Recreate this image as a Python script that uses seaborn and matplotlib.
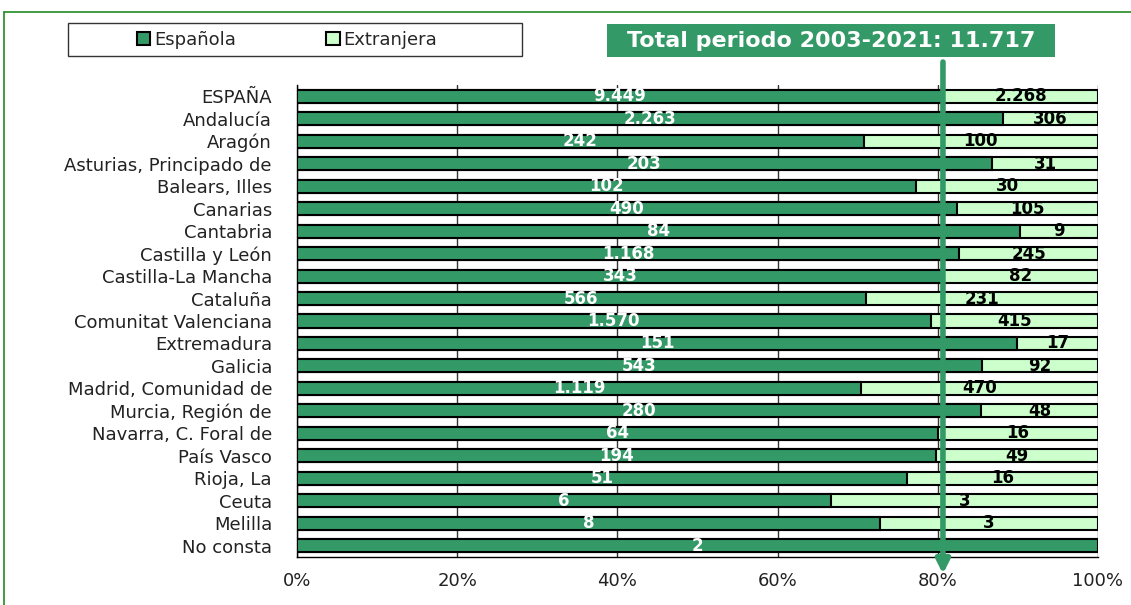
import matplotlib
matplotlib.use("Agg")
import matplotlib.pyplot as plt
import matplotlib.patches as mpatches
from matplotlib.lines import Line2D
import seaborn as sns
import pandas as pd
import numpy as np

categories = ["ESPAÑA", "Andalucía", "Aragón", "Asturias, Principado de", "Balears, Illes",
              "Canarias", "Cantabria", "Castilla y León", "Castilla-La Mancha", "Cataluña",
              "Comunitat Valenciana", "Extremadura", "Galicia", "Madrid, Comunidad de",
              "Murcia, Región de", "Navarra, C. Foral de", "País Vasco", "Rioja, La",
              "Ceuta", "Melilla", "No consta"]
espanola = [9449, 2263, 242, 203, 102, 490, 84, 1168, 343, 566, 1570, 151, 543, 1119,
            280, 64, 194, 51, 6, 8, 2]
extranjera = [2268, 306, 100, 31, 30, 105, 9, 245, 82, 231, 415, 17, 92, 470,
              48, 16, 49, 16, 3, 3, 0]
xticks = [0, 0.2, 0.4, 0.6, 0.8, 1.0]
xtick_labels = ["0%", "20%", "40%", "60%", "80%", "100%"]
title_text = "Total periodo 2003-2021: 11.717"

DARK = "#339966"
LIGHT = "#CCFFCC"

df = pd.DataFrame({"cat": categories, "esp": espanola, "ext": extranjera})
df["total"] = df["esp"] + df["ext"]
df["share_esp"] = df["esp"] / df["total"]
df["full"] = 1.0

def fmt(n):
    return f"{n:,}".replace(",", ".")

sns.set_style("white")
plt.rcParams["font.family"] = ["DejaVu Sans"]

fig = plt.figure(figsize=(11.31, 6.05), dpi=100)
W, H = 1131, 605
ax = fig.add_axes([297 / W, 1 - 557 / H, (1098 - 297) / W, (557 - 85) / H])

sns.barplot(data=df, y="cat", x="full", orient="h", color=LIGHT, edgecolor="black",
            linewidth=1.5, width=0.58, ax=ax, saturation=1, zorder=3)
sns.barplot(data=df, y="cat", x="share_esp", orient="h", color=DARK, edgecolor="black",
            linewidth=1.5, width=0.58, ax=ax, saturation=1, zorder=4)

ax.set_xlim(0, 1.0)
ax.set_ylim(len(categories) - 0.5, -0.5)
ax.set_xticks(xticks)
ax.set_xticklabels(xtick_labels, fontsize=13, color="#222222")
ax.set_xlabel("")
ax.set_ylabel("")
ax.set_yticks(range(len(categories)))
ax.set_yticklabels(categories, fontsize=13, color="#222222")
ax.tick_params(axis="y", which="major", length=0, pad=18)
ax.set_yticks(np.arange(-0.5, len(categories), 1), minor=True)
ax.tick_params(axis="y", which="minor", length=7, width=1, color="black", direction="out")
ax.tick_params(axis="x", which="major", length=6, width=1, color="black", direction="out", pad=5)
ax.grid(axis="x", color="#333333", linewidth=1, zorder=0)
ax.grid(axis="y", visible=False)
for s in ["top", "right"]:
    ax.spines[s].set_visible(False)
for s in ["left", "bottom"]:
    ax.spines[s].set_visible(True)
    ax.spines[s].set_color("black")
    ax.spines[s].set_linewidth(1)

for i, row in df.iterrows():
    ax.text(row["share_esp"] / 2, i, fmt(row["esp"]), ha="center", va="center",
            color="white", fontsize=12, fontweight="bold", zorder=6)
    if row["ext"] > 0:
        ax.text(row["share_esp"] + (1 - row["share_esp"]) / 2, i, fmt(row["ext"]),
                ha="center", va="center", color="black", fontsize=12, fontweight="bold", zorder=6)

# arrow marking Spain share
share = df["share_esp"].iloc[0]
ax.annotate("", xy=(share, 1 - 574 / H), xytext=(share, 1 - 62 / H),
            xycoords=("data", "figure fraction"), textcoords=("data", "figure fraction"),
            arrowprops=dict(arrowstyle="-|>,head_length=0.8,head_width=0.4", color=DARK, lw=4,
                            shrinkA=0, shrinkB=0),
            annotation_clip=False, zorder=10)

# title box
fig.add_artist(mpatches.Rectangle((607 / W, 1 - 57 / H), (1055 - 607) / W, 33 / H,
                                  transform=fig.transFigure, facecolor=DARK, edgecolor="none"))
fig.text(831 / W, 1 - 41 / H, title_text, ha="center", va="center", color="white",
         fontsize=16, fontweight="bold")

# legend
fig.add_artist(mpatches.Rectangle((68 / W, 1 - 56 / H), (522 - 68) / W, 33 / H,
                                  transform=fig.transFigure, facecolor="white",
                                  edgecolor="#333333", linewidth=1))
handles = [mpatches.Patch(facecolor=DARK, edgecolor="black", linewidth=1.5, label="Española"),
           mpatches.Patch(facecolor=LIGHT, edgecolor="black", linewidth=1.5, label="Extranjera")]
leg = fig.legend(handles=handles, loc="center", bbox_to_anchor=(287 / W, 1 - 40 / H),
                 ncol=2, frameon=False, fontsize=13,
                 handlelength=0.75, handleheight=0.75, handletextpad=0.2, columnspacing=5.0,
                 borderpad=0.3)

# outer green border
fig.add_artist(Line2D([4 / W, 1.0], [1 - 12 / H, 1 - 12 / H], color="#228B22", lw=1.2))
fig.add_artist(Line2D([4 / W, 4 / W], [0, 1 - 12 / H], color="#228B22", lw=1.2))

fig.savefig("out.png", dpi=100)
